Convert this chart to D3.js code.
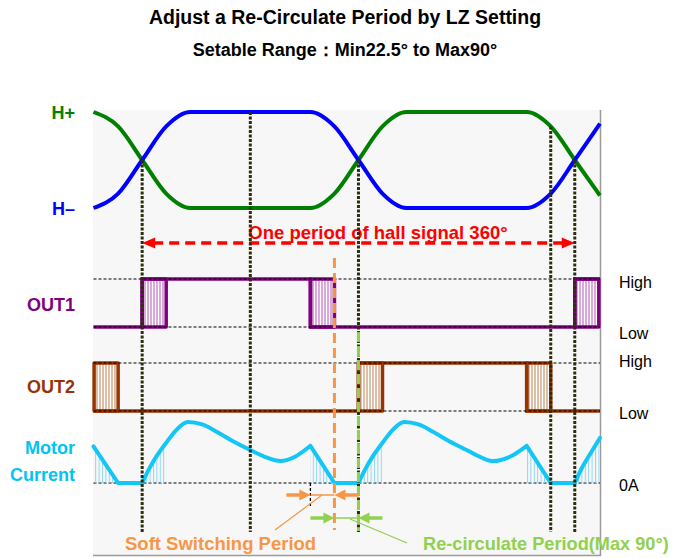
<!DOCTYPE html>
<html>
<head>
<meta charset="utf-8">
<style>
body { margin: 0; background: #fff; }
text { font-family: Arial, "Liberation Sans", sans-serif; }
.lbl { font-size: 18px; font-weight: bold; }
.lvl { font-size: 16px; fill: #000; }
.guide { fill: none; stroke: #000; stroke-width: 1.2px; stroke-dasharray: 3,2; }
</style>
<title></title></head>
<body>
<script src="https://d3js.org/d3.v7.min.js"></script>
<script>

// hall sensor signals (level 0..1) at electrical degrees
var hallDeg = [-40.5, -20, 0, 20, 40, 140, 160, 180, 200, 220, 320, 340, 360, 381];
var hPlus   = [1, 0.85, 0.5, 0.15, 0, 0, 0.15, 0.5, 0.85, 1, 1, 0.85, 0.5, 0.13];
var hMinus  = [0, 0.15, 0.5, 0.85, 1, 1, 0.85, 0.5, 0.15, 0, 0, 0.15, 0.5, 0.88];

// vertical reference lines
var markDeg = [0, 90, 180, 340, 360];

// output steps
var out1Deg = [-40.5, 0, 140, 360, 381];
var out1Lvl = [0, 1, 0, 1, 1];
var out2Deg = [-40.5, 180, 320, 381];
var out2Lvl = [0, 1, 0, 0];
var out1Soft = [[0, 20], [140, 160], [360, 380]];
var out2Soft = [[-40, -20], [180, 200], [320, 340]];

// motor current (relative)
var currentDeg = [-40.5, -20, 0, 6, 12, 20, 28, 38, 50, 62, 76, 90, 102, 115, 128, 140, 160, 180,
                  186, 192, 200, 208, 218, 230, 242, 256, 270, 282, 292, 306, 320, 340, 360, 366, 372, 381];
var currentVal = [0.6, 0, 0, 0.24, 0.44, 0.66, 0.86, 1, 0.96, 0.84, 0.68, 0.54, 0.43, 0.36, 0.44, 0.61, 0, 0,
                  0.24, 0.44, 0.66, 0.86, 1, 0.96, 0.84, 0.68, 0.54, 0.42, 0.36, 0.43, 0.61, 0, 0, 0.25, 0.45, 0.74];
var currentCorners = [-20, 0, 140, 160, 180, 320, 340, 360];

var period = [0, 360];
var softSwitch = [140, 160];
var recirc = [160, 180];

var titles = ["Adjust a Re-Circulate Period by LZ Setting", "Setable Range\uff1aMin22.5\u00b0 to Max90\u00b0"];
var periodLabel = "One period of hall signal 360\u00b0";
var softLabel = "Soft Switching Period";
var recircLabel = "Re-circulate Period(Max 90\u00b0)";

var width = 674, height = 558;

var svg = d3.select("body").append("svg")
    .attr("width", width)
    .attr("height", height);

var x = d3.scaleLinear().domain([-40.5, 381]).range([93.5, 600]);
var yHall = d3.scaleLinear().domain([0, 1]).range([208, 112]);
var yOut1 = d3.scaleLinear().domain([0, 1]).range([327, 279]);
var yOut2 = d3.scaleLinear().domain([0, 1]).range([411, 363]);
var yCur = d3.scaleLinear().domain([0, 1]).range([483, 422]);

var defs = svg.append("defs");
function stripes(id, color, w) {
  var p = defs.append("pattern").attr("id", id).attr("patternUnits", "userSpaceOnUse")
      .attr("width", w).attr("height", 10);
  p.append("rect").attr("width", w).attr("height", 10).attr("fill", "#fff");
  p.append("rect").attr("width", w - 1).attr("height", 10).attr("fill", color);
}
stripes("hatch1", "#dba8db", 3);
stripes("hatch2", "#dcbfa6", 3);
var cp = defs.append("pattern").attr("id", "hatchC").attr("patternUnits", "userSpaceOnUse")
    .attr("width", 3.4).attr("height", 10);
cp.append("rect").attr("width", 1).attr("height", 10).attr("fill", "#8fd5f3");

// titles
svg.selectAll(".title").data(titles).enter().append("text")
    .attr("class", "lbl")
    .attr("x", 345)
    .attr("y", function(d, i) { return 24 + i * 32; })
    .attr("text-anchor", "middle")
    .attr("fill", "#000")
    .style("font-size", function(d, i) { return i == 0 ? "19.5px" : "18px"; })
    .text(function(d) { return d; });

// plot background and border
svg.append("rect").attr("x", x.range()[0] - 0.5).attr("y", 110)
    .attr("width", x.range()[1] - x.range()[0] + 0.5).attr("height", 445)
    .attr("fill", "#f7f7f7");
svg.append("path")
    .attr("d", "M" + (x.range()[0] - 0.5) + ",555.5H600.5V110")
    .attr("fill", "none").attr("stroke", "#9a9a9a").attr("stroke-width", 1.5);

// hall signals
var hallLine = d3.line().curve(d3.curveMonotoneX)
    .x(function(d) { return x(d[0]); })
    .y(function(d) { return yHall(d[1]); });
svg.append("path").datum(d3.zip(hallDeg, hPlus)).attr("d", hallLine)
    .attr("fill", "none").attr("stroke", "#008000").attr("stroke-width", 4);
svg.append("path").datum(d3.zip(hallDeg, hMinus)).attr("d", hallLine)
    .attr("fill", "none").attr("stroke", "#0000ff").attr("stroke-width", 4);

// period arrow
function arrowHead(g, tipX, y, dir, color, len, half) {
  g.append("path")
      .attr("d", "M" + tipX + "," + y + "L" + (tipX - dir * len) + "," + (y - half) +
                 "L" + (tipX - dir * len) + "," + (y + half) + "Z")
      .attr("fill", color);
}
var pa = svg.append("g");
pa.append("line")
    .attr("x1", x(period[0]) + 11).attr("x2", x(period[1]) - 11)
    .attr("y1", 243).attr("y2", 243)
    .attr("stroke", "#ff0000").attr("stroke-width", 3.5).attr("stroke-dasharray", "10,6");
arrowHead(pa, x(period[0]), 243, -1, "#ff0000", 13, 5.5);
arrowHead(pa, x(period[1]), 243, 1, "#ff0000", 13, 5.5);
svg.append("text").attr("class", "lbl")
    .attr("x", 378).attr("y", 239).attr("text-anchor", "middle")
    .style("font-size", "18.5px")
    .attr("fill", "#ff0000").text(periodLabel);

// output rows
function outRow(deg, lvl, soft, y, color, hatch) {
  var g = svg.append("g");
  g.selectAll("rect").data(soft).enter().append("rect")
      .attr("x", function(d) { return x(d[0]); })
      .attr("y", y(1))
      .attr("width", function(d) { return x(d[1]) - x(d[0]); })
      .attr("height", y(0) - y(1))
      .attr("fill", "url(#" + hatch + ")")
      .attr("stroke", color).attr("stroke-width", 3.5).attr("stroke-linejoin", "round");
  g.append("path").datum(d3.zip(deg, lvl))
      .attr("d", d3.line().curve(d3.curveStepAfter)
          .x(function(d) { return x(d[0]); })
          .y(function(d) { return y(d[1]); }))
      .attr("fill", "none").attr("stroke", color).attr("stroke-width", 3.5);
  [0, 1].forEach(function(l) {
    g.append("line").attr("class", "guide")
        .attr("x1", x.range()[0]).attr("x2", x.range()[1])
        .attr("y1", y(l)).attr("y2", y(l));
  });
}
outRow(out1Deg, out1Lvl, out1Soft, yOut1, "#800080", "hatch1");
outRow(out2Deg, out2Lvl, out2Soft, yOut2, "#993300", "hatch2");

// motor current
svg.append("line").attr("class", "guide")
    .attr("x1", x.range()[0]).attr("x2", x.range()[1])
    .attr("y1", yCur(0)).attr("y2", yCur(0));

var runs = [], cur = [];
currentDeg.forEach(function(d, i) {
  cur.push([d, currentVal[i]]);
  if (currentCorners.indexOf(d) >= 0 && cur.length > 1) {
    runs.push(cur);
    cur = [[d, currentVal[i]]];
  }
});
if (cur.length > 1) runs.push(cur);

var clip = defs.append("clipPath").attr("id", "softClip");
clip.selectAll("rect").data(out1Soft.concat(out2Soft)).enter().append("rect")
    .attr("x", function(d) { return x(d[0]); })
    .attr("width", function(d) { return x(d[1]) - x(d[0]); })
    .attr("y", 400).attr("height", 90);

var curArea = d3.area().curve(d3.curveMonotoneX)
    .x(function(d) { return x(d[0]); })
    .y0(yCur(0))
    .y1(function(d) { return yCur(d[1]); });
var curLine = d3.line().curve(d3.curveMonotoneX)
    .x(function(d) { return x(d[0]); })
    .y(function(d) { return yCur(d[1]); });

svg.append("g").attr("clip-path", "url(#softClip)")
    .selectAll("path").data(runs).enter().append("path")
    .attr("d", curArea).attr("fill", "url(#hatchC)");
svg.append("path")
    .attr("d", runs.map(function(r) { return curLine(r); }).join(""))
    .attr("fill", "none").attr("stroke", "#13c6f5").attr("stroke-width", 4)
    .attr("stroke-linecap", "round").attr("stroke-linejoin", "round");

// dark dotted reference lines
svg.selectAll(".mark").data(markDeg).enter().append("line")
    .attr("x1", function(d) { return x(d); }).attr("x2", function(d) { return x(d); })
    .attr("y1", function(d) {
      var hp = d3.scaleLinear().domain(hallDeg).range(hPlus)(d);
      var hm = d3.scaleLinear().domain(hallDeg).range(hMinus)(d);
      return yHall(Math.max(hp, hm));
    })
    .attr("y2", 532)
    .attr("stroke", "#2e2e0c").attr("stroke-width", 3).attr("stroke-dasharray", "3,1.5");

// soft switching / re-circulate markers
svg.append("line")
    .attr("x1", x(softSwitch[0])).attr("x2", x(softSwitch[0]))
    .attr("y1", yCur(0)).attr("y2", 508)
    .attr("stroke", "#000").attr("stroke-width", 1.3).attr("stroke-dasharray", "3,2");
svg.append("line")
    .attr("x1", x(softSwitch[1])).attr("x2", x(softSwitch[1]))
    .attr("y1", 258).attr("y2", 530)
    .attr("stroke", "#f79646").attr("stroke-width", 3).attr("stroke-dasharray", "10,5");
svg.append("line")
    .attr("x1", x(recirc[1])).attr("x2", x(recirc[1]))
    .attr("y1", 332).attr("y2", 531)
    .attr("stroke", "#92d050").attr("stroke-width", 3).attr("stroke-dasharray", "10,4");

function spanArrows(a, b, y, color) {
  var g = svg.append("g");
  var w = 20;
  g.append("line").attr("x1", x(a)).attr("x2", x(b)).attr("y1", y).attr("y2", y)
      .attr("stroke", color).attr("stroke-width", 1.5);
  g.append("line").attr("x1", x(a) - w - 4).attr("x2", x(a) - 8).attr("y1", y).attr("y2", y)
      .attr("stroke", color).attr("stroke-width", 3.5);
  g.append("line").attr("x1", x(b) + 8).attr("x2", x(b) + w + 4).attr("y1", y).attr("y2", y)
      .attr("stroke", color).attr("stroke-width", 3.5);
  arrowHead(g, x(a), y, 1, color, 11, 5.5);
  arrowHead(g, x(b), y, -1, color, 11, 5.5);
}
spanArrows(softSwitch[0], softSwitch[1], 495, "#f79646");
spanArrows(recirc[0], recirc[1], 518, "#92d050");

svg.append("line").attr("x1", 322).attr("y1", 495).attr("x2", 275).attr("y2", 530)
    .attr("stroke", "#f79646").attr("stroke-width", 1.2);
svg.append("line").attr("x1", 350).attr("y1", 519).attr("x2", 407).attr("y2", 543)
    .attr("stroke", "#92d050").attr("stroke-width", 1.2);

svg.append("text").attr("class", "lbl").attr("x", 125).attr("y", 550)
    .style("font-size", "18.5px")
    .attr("fill", "#f79646").text(softLabel);
svg.append("text").attr("class", "lbl").attr("x", 423).attr("y", 550)
    .style("font-size", "18.2px")
    .attr("fill", "#92d050").text(recircLabel);

// row labels
var rowLabels = [
  {t: "H+", y: 113, c: "#008000"},
  {t: "H\u2013", y: 209, c: "#0000ff"},
  {t: "OUT1", y: 305, c: "#800080"},
  {t: "OUT2", y: 387, c: "#993300"},
  {t: "Motor", y: 448, c: "#00c4f4"},
  {t: "Current", y: 475, c: "#00c4f4"}
];
svg.selectAll(".row").data(rowLabels).enter().append("text")
    .attr("class", "lbl")
    .attr("x", 75).attr("y", function(d) { return d.y; }).attr("dy", "0.35em")
    .attr("text-anchor", "end")
    .attr("fill", function(d) { return d.c; })
    .text(function(d) { return d.t; });

var levelLabels = [
  {t: "High", y: 282}, {t: "Low", y: 333}, {t: "High", y: 361}, {t: "Low", y: 413}, {t: "0A", y: 485}
];
svg.selectAll(".lv").data(levelLabels).enter().append("text")
    .attr("class", "lvl")
    .attr("x", 619).attr("y", function(d) { return d.y; }).attr("dy", "0.35em")
    .text(function(d) { return d.t; });

</script>
</body>
</html>
